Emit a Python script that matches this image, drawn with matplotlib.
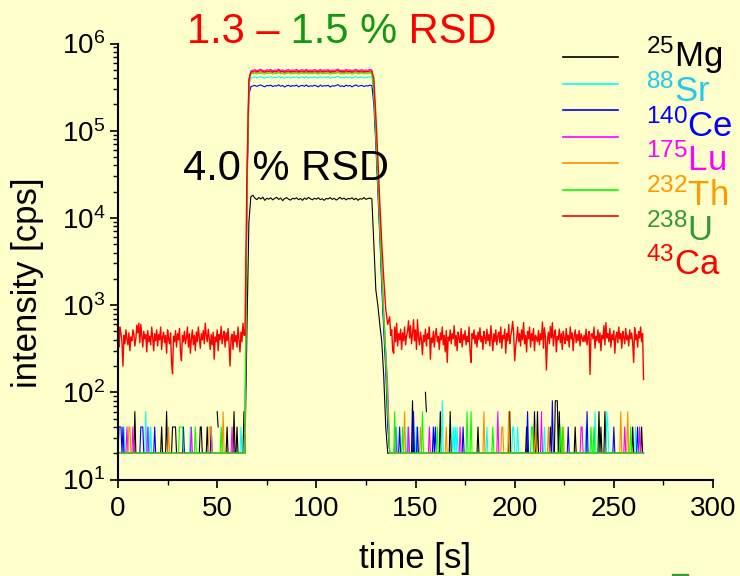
import numpy as np
import matplotlib.pyplot as plt
from matplotlib.patches import Rectangle
from matplotlib.lines import Line2D
from matplotlib.ticker import MultipleLocator, LogLocator, LogFormatterSciNotation, NullFormatter

plt.rcParams['font.family'] = ['Liberation Sans', 'DejaVu Sans']
plt.rcParams['mathtext.fontset'] = 'custom'
plt.rcParams['mathtext.rm'] = 'Liberation Sans'
plt.rcParams['mathtext.it'] = 'Liberation Sans'
plt.rcParams['mathtext.default'] = 'regular'

# time grids: 0.5 s sweeps on the baselines, 1 s through the ablation transient
t_pre = np.arange(0, 64, 0.5)
t_mid = np.arange(64, 137, 1.0)
t_post = np.arange(137, 265.5, 0.5)

FLOOR = 20  # one count per sweep

# 43Ca gas blank (cps)
ca_pre = [400, 330, 560, 470, 380, 200, 450, 360, 520, 410,
          350, 480, 300, 430, 390, 520, 460, 340, 410, 590,
          480, 620, 370, 600, 440, 330, 500, 410, 460, 290,
          510, 380, 440, 350, 560, 420, 300, 470, 390, 520,
          340, 460, 400, 560, 310, 430, 490, 370, 450, 280,
          520, 410, 360, 480, 220, 163, 440, 380, 510, 330,
          470, 400, 540, 290, 230, 450, 380, 500, 360, 420,
          560, 330, 470, 280, 410, 520, 350, 450, 300, 490,
          380, 560, 430, 320, 470, 400, 510, 360, 620, 450,
          380, 530, 420, 310, 460, 350, 490, 240, 430, 380,
          520, 300, 460, 400, 570, 360, 440, 500, 330, 480,
          390, 540, 350, 200, 420, 460, 310, 500, 380, 450,
          330, 560, 410, 290, 490, 380, 620, 450]
ca_post = [735, 450, 520, 300, 280, 560, 380, 620, 340, 470,
           400, 530, 310, 480, 390, 560, 350, 440, 500, 660,
           420, 580, 360, 470, 680, 390, 520, 310, 680, 430,
           350, 490, 400, 270, 450, 380, 530, 340, 470, 410,
           560, 240, 420, 370, 500, 330, 460, 540, 380, 440,
           310, 480, 400, 560, 350, 450, 290, 510, 220, 430,
           390, 520, 360, 470, 410, 580, 340, 450, 300, 490,
           420, 370, 540, 330, 460, 400, 510, 350, 440, 380,
           560, 290, 220, 470, 410, 520, 360, 450, 330, 490,
           400, 550, 380, 440, 310, 500, 420, 360, 530, 390,
           460, 340, 580, 410, 300, 470, 380, 520, 350, 440,
           490, 370, 560, 320, 450, 410, 530, 280, 470, 390,
           600, 360, 440, 510, 650, 480, 230, 330, 420, 560,
           380, 470, 340, 520, 400, 630, 360, 450, 290, 500,
           410, 560, 330, 470, 390, 540, 300, 450, 420, 380,
           510, 350, 470, 400, 640, 320, 550, 430, 180, 380,
           490, 360, 570, 420, 630, 340, 460, 520, 290, 440,
           400, 530, 370, 470, 310, 500, 420, 360, 540, 390,
           450, 330, 560, 410, 480, 300, 440, 520, 370, 460,
           390, 510, 340, 470, 420, 380, 450, 380, 530, 350,
           430, 500, 160, 460, 470, 410, 560, 320, 440, 390,
           520, 370, 480, 300, 450, 410, 580, 350, 630, 420,
           470, 380, 540, 330, 460, 400, 510, 280, 440, 490,
           370, 560, 410, 470, 320, 500, 430, 360, 540, 400,
           450, 340, 520, 410, 480, 370, 220, 550, 400, 460,
           330, 500, 420, 560, 380, 470, 140]

# transient 64..136 s in kcps: rise, plateau 68..128 s, washout
mg_mid = [0.02, 0.5, 9, 17.5,
          18.2, 16.9, 16.2, 17.1, 16.5, 17.3, 15.9, 16.8, 16.4, 17.0,
          16.1, 16.7, 17.2, 16.3, 16.9, 15.8, 16.6, 17.1, 16.4, 16.0,
          16.8, 16.5, 17.0, 16.2, 16.7, 15.9, 16.9, 16.3, 17.2, 16.6,
          16.1, 16.8, 16.4, 17.0, 16.2, 16.6, 15.9, 16.7, 16.5, 17.1,
          16.3, 16.8, 16.0, 16.6, 17.2, 16.4, 16.9, 16.1, 16.7, 16.5,
          17.0, 16.2, 16.8, 15.9, 16.6, 16.4, 17.1, 16.3, 16.7, 16.9,
          16.5,
          5, 1.5, 1.0, 0.6, 0.38, 0.15, 0.04, 0.02]
sr_mid = [0.04, 20, 330, 400,
          408, 414, 403, 411, 418, 406, 400, 413, 409, 416,
          402, 410, 407, 419, 405, 412, 398, 409, 415, 403,
          411, 407, 417, 400, 409, 413, 405, 418, 402, 410,
          406, 414, 409, 401, 417, 404, 411, 408, 415, 399,
          410, 406, 413, 420, 404, 409, 402, 416, 407, 412,
          400, 411, 418, 405, 409, 414, 403, 410, 407, 416,
          411,
          250, 85, 25, 7.5, 2, 0.6, 0.2, 0.06]
ce_mid = [0.02, 16, 260, 320,
          326, 331, 322, 329, 335, 325, 319, 330, 327, 333,
          321, 328, 325, 336, 323, 330, 317, 327, 332, 321,
          329, 325, 334, 319, 327, 331, 323, 335, 320, 328,
          324, 331, 327, 318, 334, 322, 329, 326, 332, 317,
          328, 324, 330, 337, 322, 327, 320, 333, 325, 330,
          318, 329, 335, 323, 327, 331, 321, 328, 325, 333,
          329,
          200, 68, 20, 6, 1.6, 0.5, 0.18, 0.04]
lu_mid = [0.02, 25, 390, 485,
          495, 502, 490, 498, 506, 493, 487, 500, 496, 504,
          489, 497, 494, 508, 492, 499, 485, 496, 503, 490,
          498, 494, 505, 487, 496, 501, 492, 507, 489, 497,
          493, 502, 496, 488, 505, 491, 498, 495, 503, 486,
          497, 493, 501, 509, 491, 496, 489, 504, 494, 499,
          487, 498, 506, 492, 496, 502, 490, 497, 494, 504,
          498,
          300, 100, 30, 9, 2.5, 0.8, 0.3, 0.12]
th_mid = [0.02, 22, 360, 445,
          452, 458, 447, 455, 462, 450, 444, 457, 453, 460,
          446, 454, 451, 464, 449, 456, 442, 453, 459, 447,
          455, 451, 461, 444, 453, 457, 449, 463, 446, 454,
          450, 458, 453, 445, 461, 448, 455, 452, 459, 443,
          454, 450, 457, 465, 448, 453, 446, 460, 451, 456,
          444, 455, 462, 449, 453, 458, 447, 454, 451, 460,
          455,
          280, 95, 28, 8, 2.2, 0.7, 0.25, 0.08]
u_mid = [0.02, 24, 370, 455,
         468, 461, 470, 463, 457, 472, 466, 459, 474, 462,
         467, 455, 471, 464, 460, 476, 463, 458, 469, 465,
         461, 473, 456, 467, 470, 462, 466, 459, 475, 463,
         468, 460, 471, 457, 465, 469, 462, 474, 458, 466,
         463, 470, 456, 468, 473, 461, 465, 459, 471, 464,
         467, 460, 472, 458, 466, 463, 469, 461, 474, 462,
         466,
         285, 98, 30, 9, 2.4, 0.75, 0.28, 0.06]
ca_mid = [0.45, 30, 380, 470,
          478, 485, 474, 481, 489, 476, 470, 483, 479, 486,
          472, 480, 477, 490, 475, 482, 468, 479, 484, 473,
          481, 477, 486, 470, 479, 483, 475, 488, 472, 480,
          476, 484, 479, 471, 487, 474, 481, 478, 485, 469,
          480, 476, 483, 490, 474, 479, 472, 486, 477, 482,
          470, 481, 488, 475, 479, 484, 473, 480, 477, 486,
          481,
          400, 150, 50, 15, 5, 2, 0.9, 0.6]

# blank sweeps that differ from one count: (time s, cps); 0 = no counts
mg_hits = [(8.5, 60), (22, 40), (24.5, 60), (27.5, 40), (28, 40), (28.5, 40), (29, 40),
           (41.5, 40), (42, 40), (45, 40), (49.5, 0), (50, 60), (50.5, 40), (51, 0),
           (55, 40), (58.5, 60), (60, 40), (63.5, 60),
           (148.5, 80), (154.5, 0), (155, 100), (155.5, 60), (156, 0), (162.5, 60),
           (167.5, 60), (181.5, 40), (197.5, 60), (206, 40), (210, 60), (211.5, 60),
           (218, 40), (220.5, 80), (221, 80), (221.5, 80), (222.5, 60), (230.5, 40),
           (242.5, 60), (243.5, 40), (245.5, 60), (259.5, 40), (264, 40)]
sr_hits = [(3, 40), (14, 60), (15.5, 40), (16.5, 40), (36.5, 40), (62, 40),
           (140.5, 40), (146, 40), (150.5, 40), (163.5, 80), (169, 40), (170, 40),
           (171, 40), (186, 40), (199, 40), (199.5, 40), (201.5, 40), (215, 40),
           (236, 40), (240.5, 60), (246.5, 60), (247, 40), (261, 40)]
ce_hits = [(0.5, 40), (1, 40), (1.5, 40), (2.5, 40), (11.5, 40), (12, 40), (12.5, 40),
           (18.5, 40), (33, 40), (47, 40),
           (142, 40), (149, 60), (151, 40), (159, 40), (160, 40), (174, 40),
           (206.5, 60), (219, 80), (227, 40), (236.5, 60), (250, 40), (262, 40)]
lu_hits = [(4.5, 40), (7.5, 40), (15, 40), (37, 40), (57.5, 40),
           (140, 40), (146.5, 40), (157, 40), (172.5, 40), (191.5, 60), (213.5, 60),
           (233.5, 40), (234, 40), (255.5, 40), (263, 40)]
th_hits = [(5.5, 40), (6, 40), (25.5, 40), (46, 40), (46.5, 40), (47, 40), (53, 60),
           (144.5, 60), (152.5, 40), (165.5, 40), (184.5, 60), (193.5, 40), (194, 40),
           (197, 60), (210.5, 40), (217, 40), (224.5, 40), (253.5, 60), (257, 60)]
u_hits = [(31, 40), (31.5, 40), (32, 40), (32.5, 40), (39, 40), (52, 40),
          (139.5, 60), (143.5, 40), (153.5, 60), (161, 40), (176, 60), (178, 60),
          (189, 40), (208.5, 40), (209, 40), (223, 40), (224, 40), (238.5, 40),
          (240, 40), (258.5, 40)]

labels = ['25', '88', '140', '175', '232', '238', '43']
elements = ['Mg', 'Sr', 'Ce', 'Lu', 'Th', 'U', 'Ca']
line_colors = ['black', '#00FFFF', '#0000FF', '#FF00FF', '#FF8C00', '#00FF00', '#FF0000']
text_colors = ['black', '#22C8F0', '#0000FF', '#FF00FF', '#FF9900', '#339933', '#FF0000']

t_all = np.concatenate([t_pre, t_mid, t_post])
n_pre, n_mid = len(t_pre), len(t_mid)


def trace(mid_k, hits=(), pre=None, post=None):
    y = np.full(t_all.size, float(FLOOR))
    if pre is not None:
        y[:n_pre] = pre
    if post is not None:
        y[n_pre + n_mid:] = post
    y[n_pre:n_pre + n_mid] = np.asarray(mid_k) * 1000
    for tt, c in hits:
        y[np.argmin(np.abs(t_all - tt))] = c
    return np.where(y > 0, y, np.nan)


series = [trace(mg_mid, mg_hits), trace(sr_mid, sr_hits), trace(ce_mid, ce_hits),
          trace(lu_mid, lu_hits), trace(th_mid, th_hits), trace(u_mid, u_hits),
          trace(ca_mid, pre=ca_pre, post=ca_post)]

bg = '#FFFFCC'
W, H = 740, 576
fig = plt.figure(figsize=(W / 100, H / 100), dpi=100, facecolor=bg)
ax = fig.add_axes([118 / W, (H - 479.5) / H, 595 / W, 436 / H], facecolor=bg)


def px(x, y):
    return x / W, (H - y) / H


for y, c in zip(series, line_colors):
    ax.plot(t_all, y, color=c, lw=1.0 if c == '#FF0000' else 0.8)

ax.set_yscale('log')
ax.set_xlim(0, 300)
ax.set_ylim(10, 1e6)
ax.xaxis.set_major_locator(MultipleLocator(50))
ax.xaxis.set_minor_locator(MultipleLocator(25))
ax.yaxis.set_major_locator(LogLocator(base=10, numticks=10))
ax.yaxis.set_minor_locator(LogLocator(base=10, subs=np.arange(2, 10), numticks=20))
ax.yaxis.set_major_formatter(LogFormatterSciNotation())
ax.yaxis.set_minor_formatter(NullFormatter())
for s in ['top', 'right']:
    ax.spines[s].set_visible(False)
for s in ['left', 'bottom']:
    ax.spines[s].set_linewidth(1.5)
ax.tick_params(which='major', length=6, width=1.2, labelsize=20, direction='out')
ax.tick_params(which='minor', length=3.5, width=1.0, direction='out')
ax.tick_params(axis='x', pad=6)
ax.tick_params(axis='y', pad=3)
ax.set_xlabel('time [s]', fontsize=25, labelpad=14)
ax.set_ylabel('intensity [cps]', fontsize=25)
ax.yaxis.set_label_coords(-0.125, 0.451)

# headline RSD values
t1 = fig.text(*px(186.7, 43.3), '1.3 \u2013', color='#FF0000', fontsize=30, va='baseline')
t2 = ax.annotate(' 1.5 %', xy=(1, 0), xycoords=t1, va='bottom', color='#119911', fontsize=30)
ax.annotate(' RSD', xy=(1, 0), xycoords=t2, va='bottom', color='#FF0000', fontsize=30)
fig.text(*px(182.7, 180), '4.0 % RSD', color='black', fontsize=30, va='baseline')

# legend: short lines plus a separate column of coloured isotope names
for i, c in enumerate(line_colors):
    x0, y0 = px(563, 57.3 + 26.5 * i)
    x1, _ = px(618, 0)
    fig.add_artist(Line2D([x0, x1], [y0, y0], color=c, lw=1.2))
for i, (m, e, c) in enumerate(zip(labels, elements, text_colors)):
    fig.text(*px(646, 67 + 34.7 * i), r'$^{%s}$%s' % (m, e), color=c,
             fontsize=25, va='baseline', ha='left')

fig.add_artist(Rectangle(px(672, 576), 16 / W, 2.5 / H, color='#3A9A3A'))

fig.savefig('out.png', dpi=100, facecolor=bg)
